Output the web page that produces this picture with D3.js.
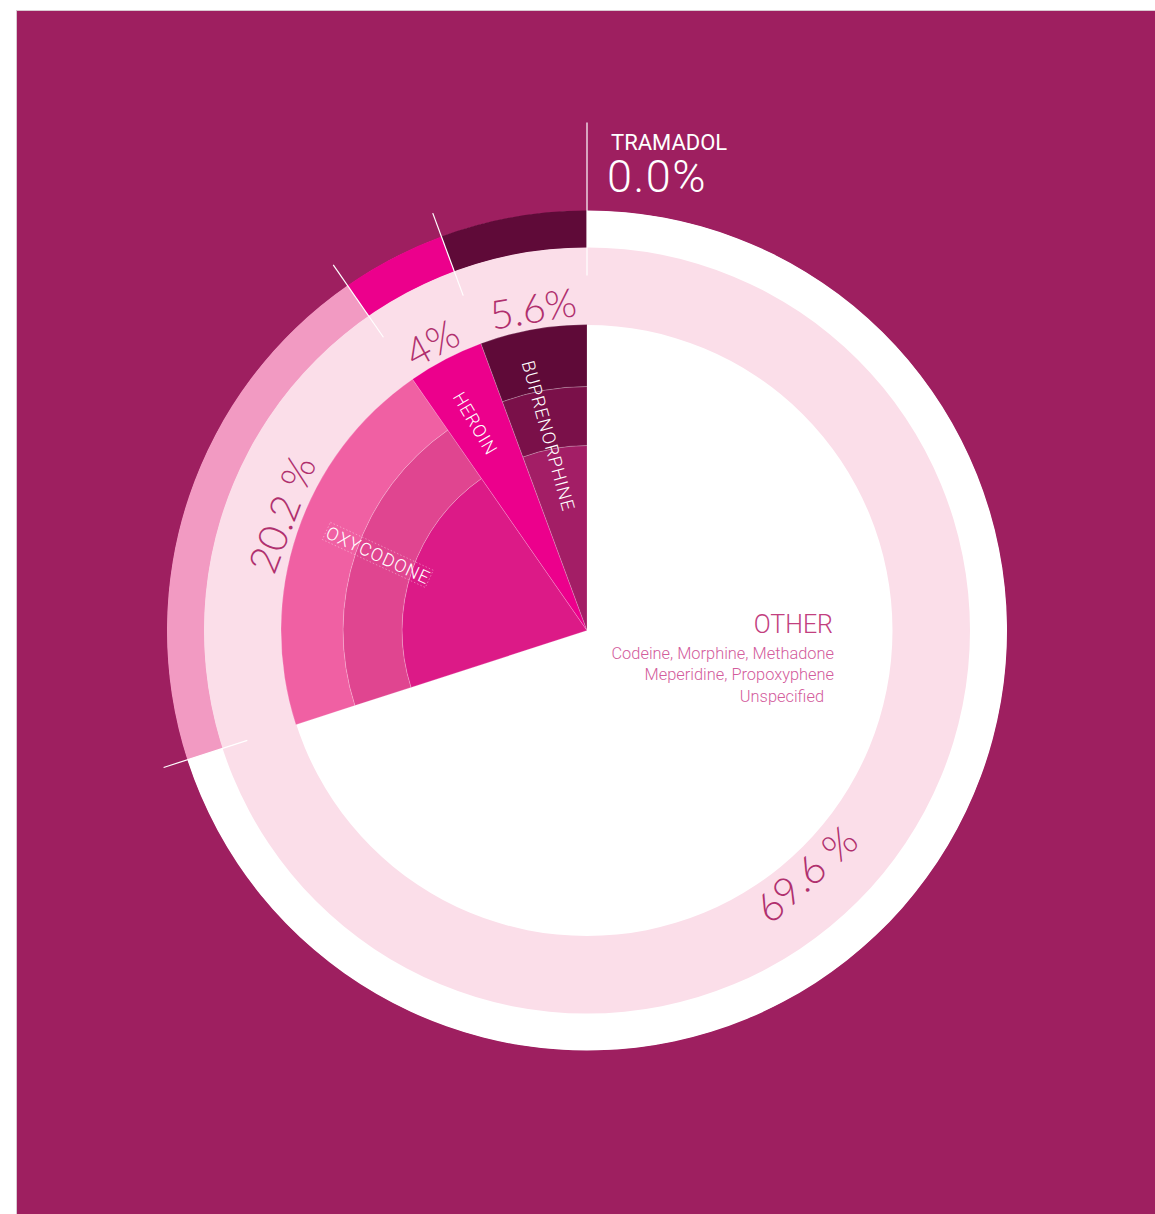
<!DOCTYPE html>
<html>
<head>
<meta charset="utf-8">
<script src="https://cdn.jsdelivr.net/npm/d3@7"></script>
<style>
  html, body { margin: 0; padding: 0; background: #fff; }
  svg { display: block; }
</style>
</head>
<body>
<svg id="chart" width="1155" height="1214"></svg>
<script>
// Shares of opioid categories (percent)
const categories = ["OTHER", "OXYCODONE", "HEROIN", "BUPRENORPHINE"];
const shares = [69.6, 20.2, 4, 5.6];
const shareLabels = ["69.6 %", "20.2 %", "4%", "5.6%"];
const otherDrugs = ["Codeine, Morphine, Methadone", "Meperidine, Propoxyphene", "Unspecified"];
const tramadolName = "TRAMADOL";
const tramadolShare = "0.0%";

// Styling per category
const bandColors = {
  "OTHER":         ["#ffffff", "#ffffff", "#ffffff"],
  "OXYCODONE":     ["#DC1A87", "#E04590", "#F060A3"],
  "HEROIN":        ["#EC008C", "#EC008C", "#EC008C"],
  "BUPRENORPHINE": ["#A31E66", "#7A1049", "#5F0A38"]
};
const outerColors = {
  "OTHER": "#ffffff", "OXYCODONE": "#F29AC2", "HEROIN": "#EC008C", "BUPRENORPHINE": "#5F0A38"
};
// label angle nudges (degrees) relative to slice middle
const labelShift = { "OTHER": 12, "OXYCODONE": 2.2, "HEROIN": -0.8, "BUPRENORPHINE": 0.6 };

const svg = d3.select("#chart");
const cx = 587, cy = 630.5;
const bandR = [0, 185, 244, 306];
const ringR = [306, 383];
const outerR = [383, 420];
const deg = Math.PI / 180;

// page panel
svg.append("rect")
  .attr("x", 16.5).attr("y", 10.5).attr("width", 1160).attr("height", 1220)
  .attr("fill", "#9E1F60").attr("stroke", "#d9c9d1").attr("stroke-width", 1);

const g = svg.append("g").attr("transform", `translate(${cx},${cy})`);

const data = categories.map((c, i) => ({ name: c, value: shares[i], label: shareLabels[i] }));
const pie = d3.pie().sort(null).value(d => d.value);
const slices = pie(data);
const arc = d3.arc();

// white base disc, keeps seams between pieces clean
g.append("circle").attr("r", outerR[1] - 0.5).attr("fill", "#fff");

// outer band
g.selectAll("path.outer").data(slices).join("path")
  .attr("class", "outer")
  .attr("d", d => arc({ innerRadius: outerR[0] - 0.5, outerRadius: outerR[1], startAngle: d.startAngle, endAngle: d.endAngle }))
  .attr("fill", d => outerColors[d.data.name]);

// pale ring carrying the share labels
g.append("path")
  .attr("d", arc({ innerRadius: ringR[0] - 0.5, outerRadius: ringR[1], startAngle: 0, endAngle: 2 * Math.PI }))
  .attr("fill", "#FBDEE9");

// inner bands, adjacent equal colours merged
slices.forEach(s => {
  if (s.data.name === "OTHER") return;
  const cols = bandColors[s.data.name];
  let i = 0;
  while (i < cols.length) {
    let j = i;
    while (j + 1 < cols.length && cols[j + 1] === cols[i]) j++;
    g.append("path")
      .attr("d", arc({ innerRadius: bandR[i], outerRadius: bandR[j + 1], startAngle: s.startAngle, endAngle: s.endAngle }))
      .attr("fill", cols[i])
      .attr("stroke", "rgba(255,255,255,0.28)")
      .attr("stroke-width", 0.7);
    i = j + 1;
  }
});

// boundary ticks
const polar = (a, r) => [r * Math.sin(a), -r * Math.cos(a)];
slices.forEach((s, i) => {
  const a = s.startAngle;
  const isTop = i === 0;
  const p0 = polar(a, isTop ? 355 : 357);
  const p1 = polar(a, isTop ? 508 : 445);
  g.append("line")
    .attr("x1", p0[0]).attr("y1", p0[1]).attr("x2", p1[0]).attr("y2", p1[1])
    .attr("stroke", "#fff").attr("stroke-width", 1.2);
});

// share labels on the pale ring
slices.forEach(s => {
  const midDeg = (s.startAngle + s.endAngle) / 2 / deg + labelShift[s.data.name];
  const [x, y] = polar(midDeg * deg, 327);
  const rot = (midDeg > 90 && midDeg < 270) ? midDeg - 180 : midDeg;
  g.append("text")
    .attr("transform", `translate(${x},${y}) rotate(${rot})`)
    .attr("text-anchor", "middle")
    .attr("dominant-baseline", "central")
    .attr("font-family", "Lato, 'Open Sans', sans-serif")
    .attr("font-weight", 300)
    .attr("font-size", 40)
    .attr("fill", "#B0306E")
    .text(s.data.label);
});

// radial category names inside the pie
const innerLabels = {
  "BUPRENORPHINE": { ang: 347.6, r: 276, rot: 74.5 },
  "HEROIN":        { ang: 331.4, r: 270, rot: 59.5 },
  "OXYCODONE":     { ang: 290.9, r: 278, rot: 25 }
};
Object.keys(innerLabels).forEach(name => {
  const L = innerLabels[name];
  const [x, y] = polar(L.ang * deg, L.r);
  const tg = g.append("g").attr("transform", `translate(${x},${y}) rotate(${L.rot})`);
  const t = tg.append("text")
    .attr("dominant-baseline", "central")
    .attr("font-family", "Roboto, 'Open Sans', sans-serif")
    .attr("font-weight", 300)
    .attr("font-size", 18)
    .attr("letter-spacing", 0.9)
    .attr("fill", "#fff")
    .text(name);
  if (name === "OXYCODONE") {
    const b = t.node().getBBox();
    tg.insert("rect", "text")
      .attr("x", b.x - 1).attr("y", b.y + 1).attr("width", b.width + 1).attr("height", b.height - 2)
      .attr("fill", "none").attr("stroke", "rgba(255,255,255,0.55)")
      .attr("stroke-width", 0.6).attr("stroke-dasharray", "1.5,2");
  }
});

// legend for the OTHER slice
const other = g.append("g").attr("transform", "translate(246,0)")
  .attr("text-anchor", "end")
  .attr("font-family", "Roboto, 'Open Sans', sans-serif")
  .attr("font-weight", 300);
other.append("text").attr("x", 0).attr("y", 2.5)
  .attr("font-size", 25).attr("fill", "#C2407F").text(categories[0]);
otherDrugs.forEach((t, i) => {
  other.append("text").attr("x", i === 2 ? -9 : 1).attr("y", 28 + i * 21.5)
    .attr("font-size", 16.4).attr("fill", "#D35C9C").text(t);
});

// tramadol callout at the top tick
const tr = g.append("g").attr("transform", "translate(0,-508)")
  .attr("font-family", "Roboto, 'Open Sans', sans-serif").attr("fill", "#fff");
tr.append("text").attr("x", 24).attr("y", 27).attr("font-size", 22).attr("font-weight", 400)
  .text(tramadolName);
tr.append("text").attr("x", 20).attr("y", 69).attr("font-size", 45).attr("font-weight", 300)
  .attr("letter-spacing", 1.5)
  .text(tramadolShare);
</script>
</body>
</html>
